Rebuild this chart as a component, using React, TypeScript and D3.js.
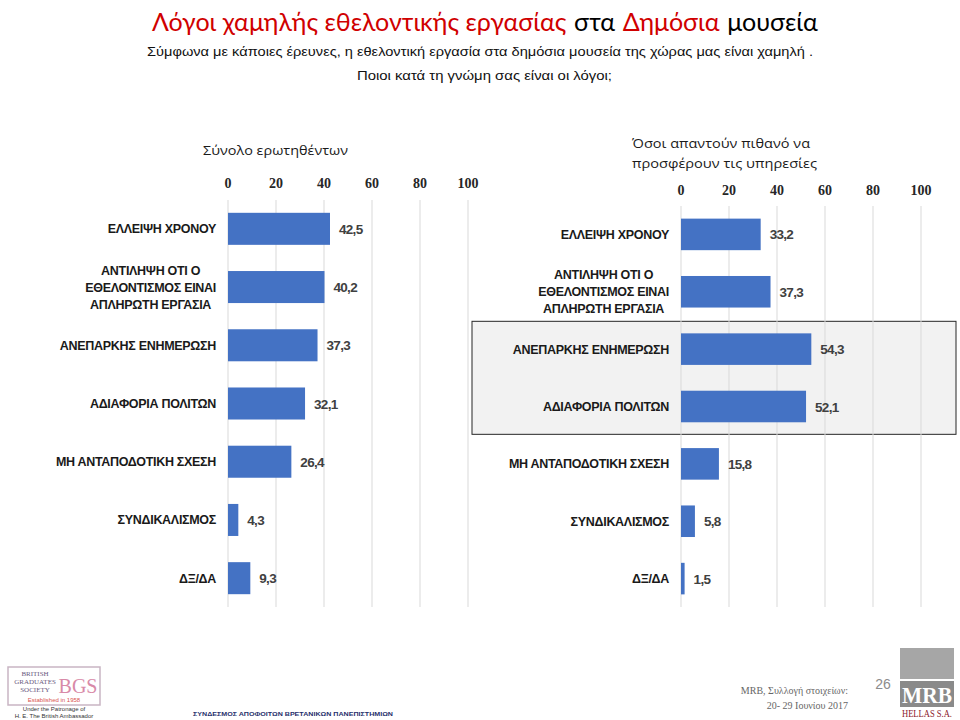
import * as d3 from "d3";
import React, { useEffect, useRef } from "react";

const categories = [
  "ΕΛΛΕΙΨΗ ΧΡΟΝΟΥ",
  "ΑΝΤΙΛΗΨΗ ΟΤΙ Ο|ΕΘΕΛΟΝΤΙΣΜΟΣ ΕΙΝΑΙ|ΑΠΛΗΡΩΤΗ ΕΡΓΑΣΙΑ",
  "ΑΝΕΠΑΡΚΗΣ ΕΝΗΜΕΡΩΣΗ",
  "ΑΔΙΑΦΟΡΙΑ ΠΟΛΙΤΩΝ",
  "ΜΗ ΑΝΤΑΠΟΔΟΤΙΚΗ ΣΧΕΣΗ",
  "ΣΥΝΔΙΚΑΛΙΣΜΟΣ",
  "ΔΞ/ΔΑ",
];
const totalValues = [42.5, 40.2, 37.3, 32.1, 26.4, 4.3, 9.3];
const likelyValues = [33.2, 37.3, 54.3, 52.1, 15.8, 5.8, 1.5];
const ticks = [0, 20, 40, 60, 80, 100];
const highlighted = ["ΑΝΕΠΑΡΚΗΣ ΕΝΗΜΕΡΩΣΗ", "ΑΔΙΑΦΟΡΙΑ ΠΟΛΙΤΩΝ"];
const titleParts = [
  { text: "Λόγοι χαμηλής εθελοντικής εργασίας", red: true },
  { text: "στα", red: false },
  { text: "Δημόσια", red: true },
  { text: "μουσεία", red: false },
];

interface Panel {
  values: number[];
  x0: number;
  x1: number;
  top: number;
  bottom: number;
  tickY: number;
  labelEnd: number;
  highlight: boolean;
}

const fmt = (v: number) => v.toFixed(1).replace(".", ",");

const App: React.FC = () => {
  const ref = useRef<SVGSVGElement>(null);

  useEffect(() => {
    const svg = d3.select(ref.current);
    svg.selectAll("*").remove();

    svg.append("rect").attr("width", 960).attr("height", 720).attr("fill", "#ffffff");

    // Title, laid out piece by piece to fit 152..818
    const titleG = svg.append("g");
    const pieces = titleParts.map((p) =>
      titleG.append("text")
        .attr("y", 31)
        .style("font-family", "Lato, 'Open Sans', sans-serif")
        .style("font-size", "26px")
        .attr("fill", p.red ? "#d00000" : "#000000")
        .text(p.text)
    );
    const gap = 8;
    const w0 = pieces.map((s) => (s.node() as SVGTextElement).getComputedTextLength());
    const scale = 666 / (d3.sum(w0) + gap * (pieces.length - 1));
    pieces.forEach((s) => s.style("font-size", `${26 * scale}px`));
    const w1 = pieces.map((s) => (s.node() as SVGTextElement).getComputedTextLength());
    let cx = 152;
    pieces.forEach((s, i) => {
      s.attr("x", cx);
      cx += w1[i] + gap * scale;
    });

    svg.append("text")
      .attr("x", 147).attr("y", 56)
      .attr("textLength", 666).attr("lengthAdjust", "spacingAndGlyphs")
      .style("font-family", "'Liberation Sans', Arial, sans-serif")
      .style("font-size", "13.5px").attr("fill", "#111")
      .text("Σύμφωνα με κάποιες  έρευνες, η εθελοντική  εργασία στα δημόσια μουσεία της χώρας μας είναι χαμηλή .");
    svg.append("text")
      .attr("x", 357).attr("y", 80)
      .attr("textLength", 255).attr("lengthAdjust", "spacingAndGlyphs")
      .style("font-family", "'Liberation Sans', Arial, sans-serif")
      .style("font-size", "13.5px").attr("fill", "#111")
      .text("Ποιοι κατά τη γνώμη σας είναι οι λόγοι;");

    // Panel titles
    const ptStyle = (s: d3.Selection<SVGTextElement, unknown, null, undefined>) =>
      s.style("font-family", "'Open Sans', sans-serif").style("font-size", "13.5px").attr("fill", "#1a1a1a")
        .attr("lengthAdjust", "spacingAndGlyphs");
    ptStyle(svg.append("text").attr("x", 203).attr("y", 155).attr("textLength", 145).text("Σύνολο ερωτηθέντων"));
    ptStyle(svg.append("text").attr("x", 632).attr("y", 148).attr("textLength", 178).text("Όσοι απαντούν πιθανό να"));
    ptStyle(svg.append("text").attr("x", 632).attr("y", 168).attr("textLength", 185).text("προσφέρουν τις υπηρεσίες"));

    const panels: Panel[] = [
      { values: totalValues, x0: 228, x1: 468, top: 200, bottom: 607, tickY: 188, labelEnd: 216, highlight: false },
      { values: likelyValues, x0: 681, x1: 921, top: 206, bottom: 607, tickY: 195, labelEnd: 669, highlight: true },
    ];

    panels.forEach((p) => {
      const g = svg.append("g");
      const x = d3.scaleLinear().domain([0, 100]).range([p.x0, p.x1]);
      const y = d3.scaleBand<string>().domain(categories).range([p.top, p.bottom]).paddingInner(0.45).paddingOuter(0.22);

      if (p.highlight) {
        const ys = highlighted.map((c) => y(c)!);
        const step = y.step();
        g.append("rect")
          .attr("x", 472).attr("width", 484)
          .attr("y", d3.min(ys)! - step * 0.21)
          .attr("height", d3.max(ys)! - d3.min(ys)! + y.bandwidth() + step * 0.42)
          .attr("fill", "#f2f2f2").attr("stroke", "#262626").attr("stroke-width", 1);
      }

      // gridlines
      g.selectAll("line.grid").data(ticks).enter().append("line")
        .attr("x1", (d) => x(d)).attr("x2", (d) => x(d))
        .attr("y1", p.top).attr("y2", p.bottom)
        .attr("stroke", "#d9d9d9").attr("stroke-width", 1);

      // tick labels
      g.selectAll("text.tick").data(ticks).enter().append("text")
        .attr("x", (d) => x(d)).attr("y", p.tickY)
        .attr("text-anchor", "middle")
        .style("font-family", "'Liberation Serif', 'DejaVu Serif', serif")
        .style("font-size", "14px").style("font-weight", "bold")
        .attr("fill", "#262626")
        .text((d) => d);

      // bars
      g.selectAll("rect.bar").data(p.values).enter().append("rect")
        .attr("x", x(0))
        .attr("y", (_, i) => y(categories[i])!)
        .attr("width", (d) => x(d) - x(0))
        .attr("height", y.bandwidth())
        .attr("fill", "#4472c4");

      // value labels
      g.selectAll("text.val").data(p.values).enter().append("text")
        .attr("x", (d) => x(d) + 9)
        .attr("y", (_, i) => y(categories[i])! + y.bandwidth() / 2 + 5)
        .style("font-family", "'Liberation Sans', Arial, sans-serif")
        .style("font-size", "13.5px").style("font-weight", "bold")
        .style("letter-spacing", "-0.7px")
        .attr("fill", "#404040")
        .text((d) => fmt(d));

      // category labels
      categories.forEach((c) => {
        const lines = c.split("|");
        const cy = y(c)! + y.bandwidth() / 2;
        const t = g.append("text")
          .style("font-family", "'Liberation Sans', Arial, sans-serif")
          .style("font-size", "12.5px").style("font-weight", "bold")
          .style("letter-spacing", "-0.3px")
          .attr("fill", "#1a1a1a");
        if (lines.length === 1) {
          t.attr("x", p.labelEnd).attr("y", cy + 4.5).attr("text-anchor", "end").text(c);
        } else {
          t.attr("text-anchor", "middle");
          lines.forEach((l, i) => {
            t.append("tspan").attr("y", cy + 4.5 + (i - (lines.length - 1) / 2) * 17).text(l);
          });
          const ws: number[] = [];
          t.selectAll<SVGTSpanElement, unknown>("tspan").each(function () {
            ws.push(this.getComputedTextLength());
          });
          const w = d3.max(ws) || 0;
          t.selectAll("tspan").attr("x", p.labelEnd - w / 2);
        }
      });
    });

    // Footer: BGS logo
    const bgs = svg.append("g");
    bgs.append("rect").attr("x", 8).attr("y", 667).attr("width", 92).attr("height", 38)
      .attr("fill", "#ffffff").attr("stroke", "#c9b5c3").attr("stroke-width", 1.5);
    const serif = "'Liberation Serif', 'Times New Roman', serif";
    [["BRITISH", 676], ["GRADUATES", 684], ["SOCIETY", 692]].forEach(([s, yy]) => {
      bgs.append("text").attr("x", 35).attr("y", yy as number).attr("text-anchor", "middle")
        .style("font-family", serif).style("font-size", "7px").attr("fill", "#6a5a80").text(s as string);
    });
    bgs.append("text").attr("x", 78).attr("y", 693).attr("text-anchor", "middle")
      .style("font-family", serif).style("font-size", "20px").attr("fill", "#d88aa8").text("BGS");
    bgs.append("text").attr("x", 54).attr("y", 702).attr("text-anchor", "middle")
      .style("font-family", "Arial, sans-serif").style("font-size", "6px").attr("fill", "#d9534f").text("Established in 1958");
    bgs.append("text").attr("x", 54).attr("y", 711).attr("text-anchor", "middle")
      .style("font-family", "Arial, sans-serif").style("font-size", "6px").attr("fill", "#333").text("Under the Patronage of");
    bgs.append("text").attr("x", 54).attr("y", 718).attr("text-anchor", "middle")
      .style("font-family", "Arial, sans-serif").style("font-size", "6px").attr("fill", "#333").text("H. E. The British Ambassador");

    svg.append("text").attr("x", 193).attr("y", 716).attr("textLength", 200).attr("lengthAdjust", "spacingAndGlyphs")
      .style("font-family", "'Liberation Sans', Arial, sans-serif").style("font-size", "6px").style("font-weight", "bold")
      .attr("fill", "#1f2f6b").text("ΣΥΝΔΕΣΜΟΣ ΑΠΟΦΟΙΤΩΝ ΒΡΕΤΑΝΙΚΩΝ ΠΑΝΕΠΙΣΤΗΜΙΩΝ");

    // Source text
    svg.append("text").attr("x", 848).attr("y", 694).attr("text-anchor", "end")
      .style("font-family", serif).style("font-size", "10px").attr("fill", "#666").text("MRB, Συλλογή στοιχείων:");
    svg.append("text").attr("x", 848).attr("y", 709).attr("text-anchor", "end")
      .style("font-family", serif).style("font-size", "10px").attr("fill", "#666").text("20- 29 Ιουνίου 2017");
    svg.append("text").attr("x", 883).attr("y", 689).attr("text-anchor", "middle")
      .style("font-family", "'Liberation Sans', Arial, sans-serif").style("font-size", "14px").attr("fill", "#8c8c8c").text("26");

    // MRB logo
    svg.append("rect").attr("x", 900).attr("y", 648).attr("width", 54).attr("height", 31).attr("fill", "#a6a6a6");
    svg.append("rect").attr("x", 900).attr("y", 681).attr("width", 54).attr("height", 26).attr("fill", "#8a8a8a");
    svg.append("text").attr("x", 927).attr("y", 703).attr("text-anchor", "middle")
      .attr("textLength", 50).attr("lengthAdjust", "spacingAndGlyphs")
      .style("font-family", serif).style("font-size", "24px").style("font-weight", "bold").attr("fill", "#ffffff").text("MRB");
    svg.append("text").attr("x", 927).attr("y", 717).attr("text-anchor", "middle")
      .attr("textLength", 50).attr("lengthAdjust", "spacingAndGlyphs")
      .style("font-family", serif).style("font-size", "10px").attr("fill", "#8b1a2b").text("HELLAS S.A.");
  }, []);

  return (
    <div style={{ position: "absolute", left: 0, top: 0 }}>
      <svg ref={ref} width={960} height={720} style={{ display: "block" }}></svg>
    </div>
  );
};

export default App;
